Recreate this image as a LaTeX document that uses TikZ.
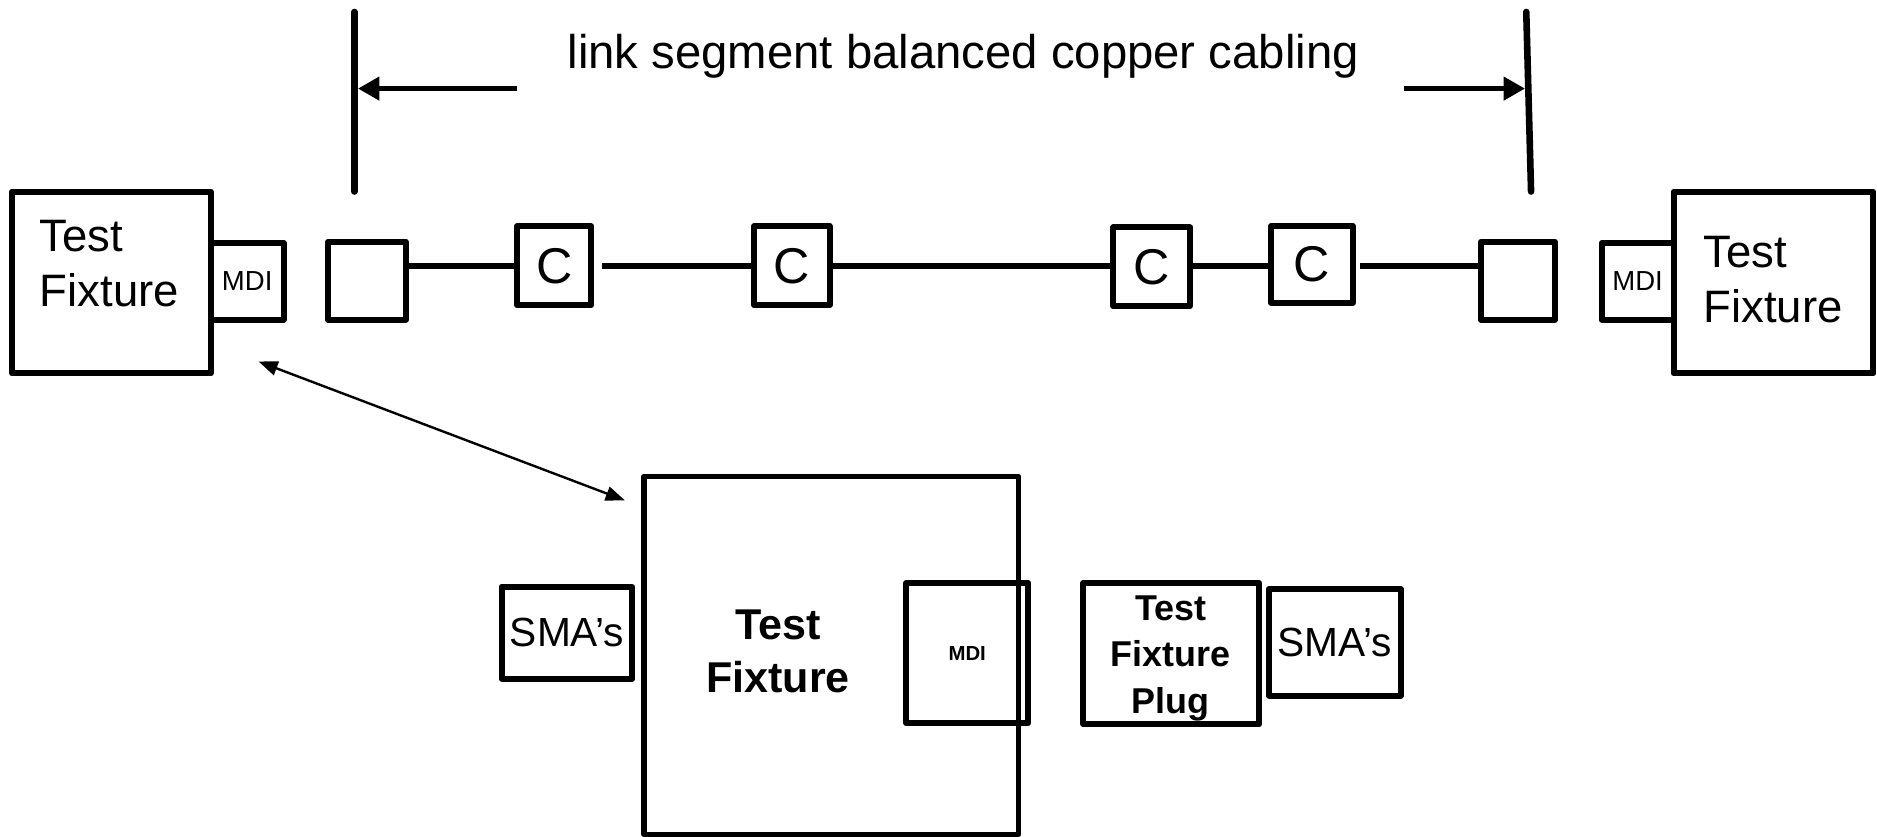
\documentclass[tikz,border=0pt]{standalone}
\usepackage{fontspec}
\setmainfont{Liberation Sans}
\usetikzlibrary{arrows.meta,calc}
\begin{document}
\begin{tikzpicture}[x=1pt,y=-1pt,
  box/.style={draw, line width=5pt, line join=round, inner sep=0pt},
  conn/.style={line width=5pt},
  bar/.style={line width=5.5pt, line cap=round},
  dimarrow/.style={line width=4.5pt, -{Triangle[length=18pt,width=19pt]}},
  thinarrow/.style={line width=2pt, {Triangle[length=16pt,width=12pt]}-{Triangle[length=16pt,width=12pt]}},
  tfont/.style={font=\fontsize{38}{46}\selectfont, inner sep=0pt},
  cfont/.style={font=\fontsize{42}{48}\selectfont},
  mfont/.style={font=\fontsize{23}{28}\selectfont},
  sfont/.style={font=\fontsize{34}{40}\selectfont},
  bfont/.style={font=\fontsize{36}{44}\selectfont\bfseries, inner sep=0pt},
  pfont/.style={font=\fontsize{30}{38.5}\selectfont\bfseries, inner sep=0pt},
  mbfont/.style={font=\fontsize{17}{20}\selectfont\bfseries},
  ttl/.style={font=\fontsize{39.5}{46}\selectfont, inner sep=0pt}
]
\useasboundingbox (0,0) rectangle (1568,699.2);

% title and dimension marks
\node[ttl, anchor=base west] (title) at (474,57) {link segment balanced copper cabling};
\coordinate (lb1) at (296,10);
\coordinate (lb2) at (296,160);
\coordinate (rb1) at (1275,10);
\coordinate (rb2) at (1279,160);
\draw[bar] (lb1) -- (lb2);
\draw[bar] (rb1) -- (rb2);
\coordinate (las) at (432,74);
\coordinate (lae) at (299,74);
\coordinate (ras) at (1173,74);
\coordinate (rae) at (1274,74);
\draw[dimarrow] (las) -- (lae);
\draw[dimarrow] (ras) -- (rae);

% left test fixture
\node[box, minimum width=166pt, minimum height=152pt] (tfL) at (93,236) {};
\node[tfont, anchor=north west, align=left] (tfLt) at (33,184) {Test\\Fixture};
\node[box, mfont, minimum width=61pt, minimum height=64pt] (mdiL) at (206.5,235) {MDI};

% link segment
\node[box, minimum width=65pt, minimum height=65pt] (s1) at (306.5,234.5) {};
\node[box, cfont, minimum width=62pt, minimum height=66pt] (c1) at (463,222) {C};
\node[box, cfont, minimum width=63pt, minimum height=66pt] (c2) at (661.5,222) {C};
\node[box, cfont, minimum width=64pt, minimum height=66pt] (c3) at (962,223) {C};
\node[box, cfont, minimum width=68pt, minimum height=64pt] (c4) at (1096,221) {C};
\node[box, minimum width=62pt, minimum height=65pt] (s2) at (1268,234.5) {};
\coordinate (lineY) at (0,222);
\draw[conn] (s1.east |- lineY) -- (c1.west |- lineY);
\draw[conn] ([xshift=6pt]c1.east |- lineY) -- (c2.west |- lineY);
\draw[conn] (c2.east |- lineY) -- (c3.west |- lineY);
\draw[conn] (c3.east |- lineY) -- (c4.west |- lineY);
\draw[conn] ([xshift=4pt]c4.east |- lineY) -- (s2.west |- lineY);

% right test fixture
\node[box, mfont, minimum width=60pt, minimum height=64pt] (mdiR) at (1368,235) {MDI};
\node[box, minimum width=167pt, minimum height=152pt] (tfR) at (1481.5,236) {};
\node[tfont, anchor=north west, align=left] (tfRt) at (1423,197) {Test\\Fixture};

% zoom arrow
\coordinate (da1) at (216,302);
\coordinate (da2) at (522,418);
\draw[thinarrow] (da1) -- (da2);

% bottom detail
\node[box, line width=4.5pt, minimum width=313pt, minimum height=299pt] (bigTF) at (694.5,547.5) {};
\node[bfont, align=center] (bigTFt) at (650,544) {Test\\Fixture};
\node[box, sfont, minimum width=109pt, minimum height=77pt] (smaL) at (473.5,528.5) {SMA’s};
\node[box, mbfont, minimum width=102pt, minimum height=117pt] (mdiB) at (808,545.5) {MDI};
\node[box, minimum width=147pt, minimum height=118pt] (plug) at (978.5,546) {};
\node[pfont, align=center] (plugt) at (978,550) {Test\\Fixture\\Plug};
\node[box, sfont, minimum width=110pt, minimum height=89pt] (smaR) at (1115,536.5) {SMA’s};
\end{tikzpicture}
\end{document}
